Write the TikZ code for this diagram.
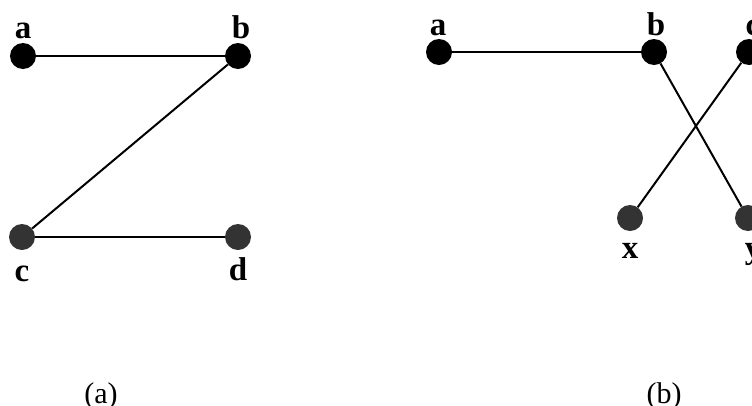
\documentclass[tikz,border=0pt]{standalone}
\usepackage{fontspec}
\setmainfont{Liberation Serif}
\begin{document}
\begin{tikzpicture}[x=1pt,y=-1pt,
  blk/.style={circle,fill=black,minimum size=26pt,inner sep=0pt},
  gry/.style={circle,fill=black!80,minimum size=26pt,inner sep=0pt},
  lbl/.style={font=\fontsize{33}{33}\selectfont\bfseries,inner sep=0pt,anchor=base},
  captxt/.style={font=\fontsize{30}{30}\selectfont,inner sep=0pt,anchor=base},
  edge/.style={line width=2pt}]
\useasboundingbox (0,0) rectangle (752,405);
% (a)
\node[blk] (a1) at (23,56) {};
\node[blk] (b1) at (238,56) {};
\node[gry] (c1) at (22,237) {};
\node[gry] (d1) at (238,237) {};
\draw[edge] (a1) -- (b1);
\draw[edge] (b1) -- (c1);
\draw[edge] (c1) -- (d1);
\node[lbl] (la1) at (23,38) {a};
\node[lbl] (lb1) at (241,38) {b};
\node[lbl] (lc1) at (22,281) {c};
\node[lbl] (ld1) at (238,280) {d};
\node[captxt] (capa) at (101,403) {(a)};
% (b)
\node[blk] (a2) at (439,52) {};
\node[blk] (b2) at (654,52) {};
\node[blk] (c2) at (749,52) {};
\node[gry] (x2) at (630,218) {};
\node[gry] (y2) at (748,218) {};
\draw[edge] (a2) -- (b2);
\draw[edge] (b2) -- (y2);
\draw[edge] (c2) -- (x2);
\node[lbl] (la2) at (438,35) {a};
\node[lbl] (lb2) at (656,35) {b};
\node[lbl] (lc2) at (753,35) {c};
\node[lbl] (lx2) at (630,258) {x};
\node[lbl] (ly2) at (753,258) {y};
\node[captxt] (capb) at (664,403) {(b)};
\end{tikzpicture}
\end{document}
